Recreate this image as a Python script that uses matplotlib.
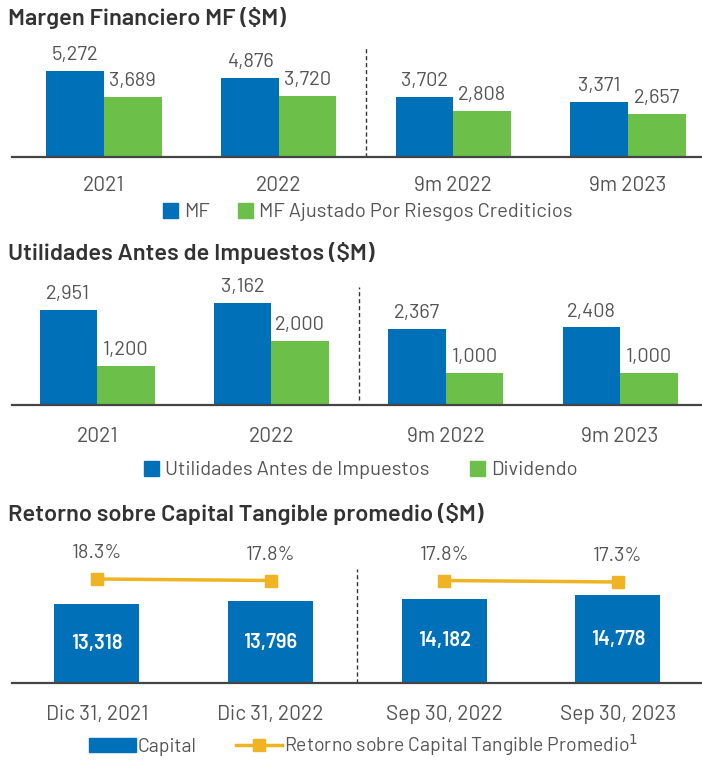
import matplotlib
matplotlib.use("Agg")
import matplotlib.pyplot as plt
from matplotlib.lines import Line2D
from matplotlib.patches import Patch

# Data
periods = ["2021", "2022", "9m 2022", "9m 2023"]
mf = [5272, 4876, 3702, 3371]
mf_ajustado = [3689, 3720, 2808, 2657]

utilidades = [2951, 3162, 2367, 2408]
dividendo = [1200, 2000, 1000, 1000]

fechas = ["Dic 31, 2021", "Dic 31, 2022", "Sep 30, 2022", "Sep 30, 2023"]
capital = [13318, 13796, 14182, 14778]
rotce = [18.3, 17.8, 17.8, 17.3]

BLUE = "#0070B8"
GREEN = "#6CC04A"
GOLD = "#F0B323"
TXT = "#555555"
TITLE = "#333333"

plt.rcParams['font.family'] = ['Barlow', 'DejaVu Sans']

W, H = 702, 760
fig = plt.figure(figsize=(W / 100, H / 100), dpi=100)
fig.patch.set_facecolor("white")


def px_axes(x0, y0, x1, y1):
    return fig.add_axes([x0 / W, 1 - y1 / H, (x1 - x0) / W, (y1 - y0) / H])


def style(ax, xlim, ylim, labels, pad):
    ax.set_xlim(*xlim)
    ax.set_ylim(*ylim)
    for s in ["top", "right", "left"]:
        ax.spines[s].set_visible(False)
    ax.spines["bottom"].set_color("#444444")
    ax.spines["bottom"].set_linewidth(1.6)
    ax.set_yticks([])
    ax.set_xticks(range(len(labels)))
    ax.set_xticklabels(labels, fontsize=TICK, color=TXT)
    ax.tick_params(axis="x", length=0, pad=pad)
    ax.patch.set_alpha(0)


x = list(range(4))
bw = 0.33
NUM = 14.5
TICK = 15
LEG = 14.5
TTL = 17

# Panel 1: Margen Financiero
fig.text(8 / W, 1 - 18 / H, "Margen Financiero MF ($M)", fontsize=TTL,
         fontweight="semibold", color=TITLE, va="center")
ax1 = px_axes(12, 40, 702, 157)
style(ax1, (-0.527, 3.424), (0, 117 / 0.0163), periods, 13.5)
b1 = ax1.bar([i - bw / 2 for i in x], mf, bw, color=BLUE)
b2 = ax1.bar([i + bw / 2 for i in x], mf_ajustado, bw, color=GREEN)
for bars, vals in ((b1, mf), (b2, mf_ajustado)):
    for r, v in zip(bars, vals):
        ax1.annotate(f"{v:,}", (r.get_x() + r.get_width() / 2, v),
                     xytext=(0, 5), textcoords="offset points",
                     ha="center", va="bottom", fontsize=NUM, color=TXT)
ax1.axvline(1.5, ymin=0, ymax=0.95, color="#333333", lw=1, ls=(0, (3, 2)))
ax1.legend([Patch(color=BLUE), Patch(color=GREEN)],
           ["MF", "MF Ajustado Por Riesgos Crediticios"],
           loc="center", bbox_to_anchor=(368 / W, 1 - 212 / H),
           bbox_transform=fig.transFigure, ncol=2, frameon=False,
           fontsize=LEG, labelcolor=TXT, handlelength=0.75, handleheight=0.75,
           handletextpad=0.3, columnspacing=1.4)

# Panel 2: Utilidades
fig.text(8 / W, 1 - 253 / H, "Utilidades Antes de Impuestos ($M)", fontsize=TTL,
         fontweight="semibold", color=TITLE, va="center")
ax2 = px_axes(12, 280, 702, 405)
style(ax2, (-0.488, 3.47), (0, 125 / 0.0322), periods, 15.5)
b1 = ax2.bar([i - bw / 2 for i in x], utilidades, bw, color=BLUE)
b2 = ax2.bar([i + bw / 2 for i in x], dividendo, bw, color=GREEN)
for bars, vals in ((b1, utilidades), (b2, dividendo)):
    for r, v in zip(bars, vals):
        ax2.annotate(f"{v:,}", (r.get_x() + r.get_width() / 2, v),
                     xytext=(0, 5), textcoords="offset points",
                     ha="center", va="bottom", fontsize=NUM, color=TXT)
ax2.axvline(1.5, ymin=0.04, ymax=0.944, color="#333333", lw=1, ls=(0, (3, 2)))
ax2.legend([Patch(color=BLUE), Patch(color=GREEN)],
           ["Utilidades Antes de Impuestos", "Dividendo"],
           loc="center", bbox_to_anchor=(361 / W, 1 - 470 / H),
           bbox_transform=fig.transFigure, ncol=2, frameon=False,
           fontsize=LEG, labelcolor=TXT, handlelength=0.75, handleheight=0.75,
           handletextpad=0.3, columnspacing=2.0)

# Panel 3: Retorno sobre Capital Tangible
fig.text(8 / W, 1 - 514 / H, "Retorno sobre Capital Tangible promedio ($M)",
         fontsize=TTL, fontweight="semibold", color=TITLE, va="center")
ax3 = px_axes(12, 540, 702, 683)
style(ax3, (-0.489, 3.484), (0, 143 / 0.00593), fechas, 15.5)
bars = ax3.bar(x, capital, 0.49, color=BLUE)
for r, v in zip(bars, capital):
    ax3.text(r.get_x() + r.get_width() / 2, v / 2, f"{v:,}", ha="center",
             va="center", fontsize=14.5, fontweight="semibold", color="white")
ax3.axvline(1.5, ymin=0, ymax=0.80, color="#333333", lw=1, ls=(0, (3, 2)))

ax3b = ax3.twinx()
ax3b.set_ylim(18.3 - 104 / 3, 18.3 - 104 / 3 + 143 / 3)
ax3b.axis("off")
for seg in ((0, 1), (2, 3)):
    ax3b.plot([x[i] for i in seg], [rotce[i] for i in seg], color=GOLD, lw=2.5,
              marker="s", markersize=8)
for i, v in enumerate(rotce):
    ax3b.annotate(f"{v}%", (x[i], v), xytext=(0, 12), textcoords="offset points",
                  ha="center", va="bottom", fontsize=NUM, color=TXT)
ax3.legend([Patch(color=BLUE),
            Line2D([0], [0], color=GOLD, lw=2.5, marker="s", markersize=8)],
           ["Capital", "Retorno sobre Capital Tangible Promedio$^{1}$"],
           loc="center", bbox_to_anchor=(364 / W, 1 - 745 / H),
           bbox_transform=fig.transFigure, ncol=2, frameon=False,
           fontsize=14, labelcolor=TXT, handlelength=2.4, handleheight=0.75,
           handletextpad=0.1, columnspacing=2.0)

fig.savefig("out.png", dpi=100)
